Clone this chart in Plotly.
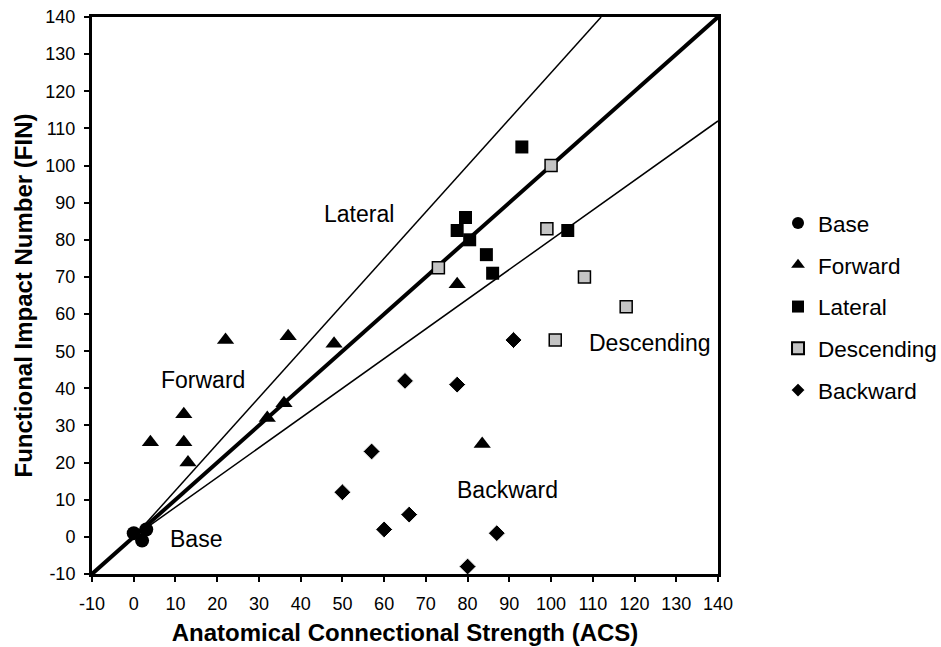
import plotly.graph_objects as go

# ---- data ----
base_x = [0, 3, 2]
base_y = [1, 2, -1]

forward_x = [22, 37, 48, 12, 4, 12, 13, 36, 32, 77.5, 83.5]
forward_y = [53, 54, 52, 33, 25.5, 25.5, 20, 36, 32, 68, 25]

lateral_x = [93, 79.5, 77.5, 80.5, 84.5, 86, 104]
lateral_y = [105, 86, 82.5, 80, 76, 71, 82.5]

descending_x = [100, 99, 73, 108, 118, 101]
descending_y = [100, 83, 72.5, 70, 62, 53]

backward_x = [91, 65, 77.5, 57, 50, 66, 60, 87, 80]
backward_y = [53, 42, 41, 23, 12, 6, 2, 1, -8]

identity_x = [-10, 140]
identity_y = [-10, 140]
upper_x = [0, 112]
upper_y = [0, 140]
lower_x = [0, 140]
lower_y = [0, 112]

region_labels = ["Lateral", "Forward", "Base", "Backward", "Descending"]
region_x = [54, 16.6, 15, 89.5, 123.5]
region_y = [87, 42.2, -0.6, 12.6, 52.2]

tick_vals = list(range(-10, 141, 10))
tick_text = [str(v) for v in tick_vals]

FONT = "Arial, Liberation Sans, sans-serif"

fig = go.Figure()

# reference lines
fig.add_trace(go.Scatter(x=upper_x, y=upper_y, mode="lines",
                         line=dict(color="black", width=1.5),
                         showlegend=False, hoverinfo="skip"))
fig.add_trace(go.Scatter(x=lower_x, y=lower_y, mode="lines",
                         line=dict(color="black", width=1.5),
                         showlegend=False, hoverinfo="skip"))
fig.add_trace(go.Scatter(x=identity_x, y=identity_y, mode="lines",
                         line=dict(color="black", width=4),
                         showlegend=False, hoverinfo="skip"))

series = [
    ("Base", base_x, base_y, "circle", 14, "black", "black", 0),
    ("Forward", forward_x, forward_y, "triangle-up", 15, "black", "black", 0),
    ("Lateral", lateral_x, lateral_y, "square", 13, "black", "black", 0),
    ("Descending", descending_x, descending_y, "square", 12, "#c4c4c4", "black", 1.5),
    ("Backward", backward_x, backward_y, "diamond", 13, "black", "white", 1),
]
for name, xs, ys, sym, size, fill, lc, lw in series:
    fig.add_trace(go.Scatter(
        x=xs, y=ys, mode="markers", name=name, legendgroup=name,
        marker=dict(symbol=sym, size=size, color=fill,
                    line=dict(color=lc, width=lw)),
        cliponaxis=False,
    ))

for t, xx, yy in zip(region_labels, region_x, region_y):
    fig.add_annotation(x=xx, y=yy, text=t, showarrow=False,
                       font=dict(family=FONT, size=23, color="black"))

axis_common = dict(
    range=[-10, 140], tickvals=tick_vals, ticktext=tick_text,
    showgrid=False, zeroline=False, automargin=False,
    showline=True, linecolor="black", linewidth=3, mirror=True,
    ticks="outside", ticklen=5, tickwidth=2, tickcolor="black",
    tickfont=dict(family=FONT, size=18, color="black"),
)

fig.update_layout(
    width=941, height=647,
    margin=dict(l=92, r=223, t=17, b=73),
    plot_bgcolor="white", paper_bgcolor="white",
    xaxis=dict(**axis_common, ticklabelstandoff=6,
               title=dict(text="<b>Anatomical Connectional Strength (ACS)</b>",
                          font=dict(family=FONT, size=24, color="black"),
                          standoff=12)),
    yaxis=dict(**axis_common, ticklabelstandoff=5,
               title=dict(text="<b>Functional Impact Number (FIN)</b>",
                          font=dict(family=FONT, size=24, color="black"),
                          standoff=6)),
    legend=dict(xref="container", x=0.8268, y=0.668, xanchor="left", yanchor="top",
                font=dict(family=FONT, size=22.5, color="black"),
                tracegroupgap=9.5, bgcolor="rgba(0,0,0,0)",
                itemsizing="constant", itemwidth=30),
    showlegend=True,
)

fig.write_html("out.html",
               config={"displayModeBar": False},
               post_script="document.body.style.margin='0';document.body.style.overflow='hidden';")
